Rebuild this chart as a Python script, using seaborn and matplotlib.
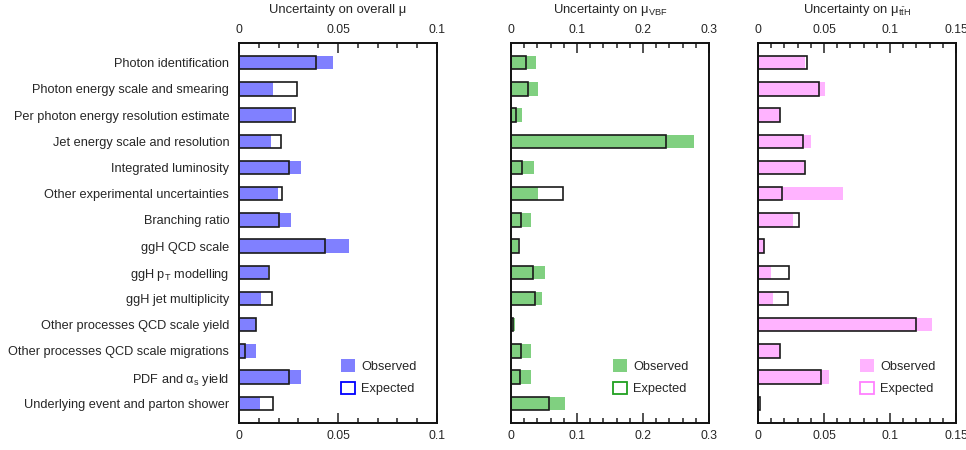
import pandas as pd
import seaborn as sns
import matplotlib.pyplot as plt
from matplotlib.patches import Patch
from matplotlib.ticker import MultipleLocator, FuncFormatter

# Data
sources = ['Photon identification', 'Photon energy scale and smearing',
           'Per photon energy resolution estimate', 'Jet energy scale and resolution',
           'Integrated luminosity', 'Other experimental uncertainties',
           'Branching ratio', 'ggH QCD scale', r'ggH p$_\mathrm{T}$ modelling',
           'ggH jet multiplicity', 'Other processes QCD scale yield',
           'Other processes QCD scale migrations', r'PDF and α$_\mathrm{s}$ yield',
           'Underlying event and parton shower']

obs_mu = [0.0474, 0.0170, 0.0270, 0.0160, 0.0312, 0.0199, 0.0261,
          0.0558, 0.0147, 0.0110, 0.0085, 0.0086, 0.0312, 0.0106]
exp_mu = [0.0389, 0.0292, 0.0283, 0.0211, 0.0255, 0.0216, 0.0204,
          0.0435, 0.0150, 0.0169, 0.0087, 0.0032, 0.0250, 0.0174]

obs_vbf = [0.0375, 0.0405, 0.0162, 0.2776, 0.0344, 0.0405, 0.0299,
           0.0110, 0.0510, 0.0466, 0.0065, 0.0304, 0.0304, 0.0815]
exp_vbf = [0.0228, 0.0263, 0.0076, 0.2345, 0.0172, 0.0795, 0.0147,
           0.0115, 0.0340, 0.0360, 0.0035, 0.0157, 0.0142, 0.0572]

obs_tth = [0.0357, 0.0508, 0.0167, 0.0400, 0.0349, 0.0642, 0.0263,
           0.0046, 0.0096, 0.0111, 0.1318, 0.0167, 0.0536, 0.0010]
exp_tth = [0.0370, 0.0465, 0.0169, 0.0339, 0.0359, 0.0185, 0.0314,
           0.0048, 0.0238, 0.0230, 0.1194, 0.0169, 0.0476, 0.0015]

df = pd.DataFrame({'source': sources,
                   'obs_mu': obs_mu, 'exp_mu': exp_mu,
                   'obs_vbf': obs_vbf, 'exp_vbf': exp_vbf,
                   'obs_tth': obs_tth, 'exp_tth': exp_tth})

panels = [
    ('mu', 'Uncertainty on overall μ', 0.1, 0.05, 0.01, '#8080ff', '#0000ff'),
    ('vbf', r'Uncertainty on μ$_\mathrm{VBF}$', 0.3, 0.1, 0.02, '#80d080', '#20a020'),
    ('tth', r'Uncertainty on μ$_{\mathrm{t}\bar{\mathrm{t}}\mathrm{H}}$', 0.15, 0.05, 0.01,
     '#ffb3ff', '#ff80ff'),
]

sns.set_theme(style='white')
plt.rcParams['font.family'] = ['Liberation Sans', 'DejaVu Sans']
plt.rcParams['mathtext.fontset'] = 'custom'
plt.rcParams['mathtext.rm'] = 'Liberation Sans'
plt.rcParams['mathtext.it'] = 'Liberation Sans:italic'

fig = plt.figure(figsize=(9.66, 4.5), dpi=100)
lefts = [239, 511, 758]

for i, (key, title, xmax, major, minor, col, legcol) in enumerate(panels):
    ax = fig.add_axes([lefts[i] / 966, 27 / 450, 198 / 966, 380 / 450])
    sns.barplot(data=df, x='obs_' + key, y='source', color=col, width=0.51,
                saturation=1, errorbar=None, linewidth=0, ax=ax)
    sns.barplot(data=df, x='exp_' + key, y='source', fill=False, color='#1a1a1a',
                saturation=1, width=0.51, errorbar=None, linewidth=1.2, ax=ax)
    ax.set_xlim(0, xmax)
    ax.set_ylim(13.75, -0.75)
    ax.set_xlabel('')
    ax.set_ylabel('')
    ax.xaxis.set_major_locator(MultipleLocator(major))
    ax.xaxis.set_minor_locator(MultipleLocator(minor))
    ax.xaxis.set_major_formatter(FuncFormatter(lambda v, p: '%g' % round(v, 4)))
    ax.tick_params(axis='x', which='both', direction='in', top=True, bottom=True,
                   labeltop=True, labelbottom=True, labelsize=8.8, pad=5,
                   color='#222222', width=1.1)
    ax.tick_params(axis='x', which='major', length=7)
    ax.tick_params(axis='x', which='minor', length=3.5)
    ax.tick_params(axis='y', length=0, labelsize=9.2, pad=7)
    if i > 0:
        ax.set_yticklabels([])
    for sp in ax.spines.values():
        sp.set_linewidth(1.4)
        sp.set_color('#111111')
    ax.set_title(title, fontsize=9.4, pad=8)

    handles = [Patch(facecolor=col, edgecolor='none', label='Observed'),
               Patch(facecolor='white', edgecolor=legcol, linewidth=1.3, label='Expected')]
    ax.legend(handles=handles, loc='lower left', bbox_to_anchor=(0.515, 0.073),
              frameon=False, fontsize=9.2, handlelength=1.1, handleheight=1.1,
              handletextpad=0.5, labelspacing=0.7, borderpad=0, borderaxespad=0)

fig.savefig('out.png', dpi=100)
